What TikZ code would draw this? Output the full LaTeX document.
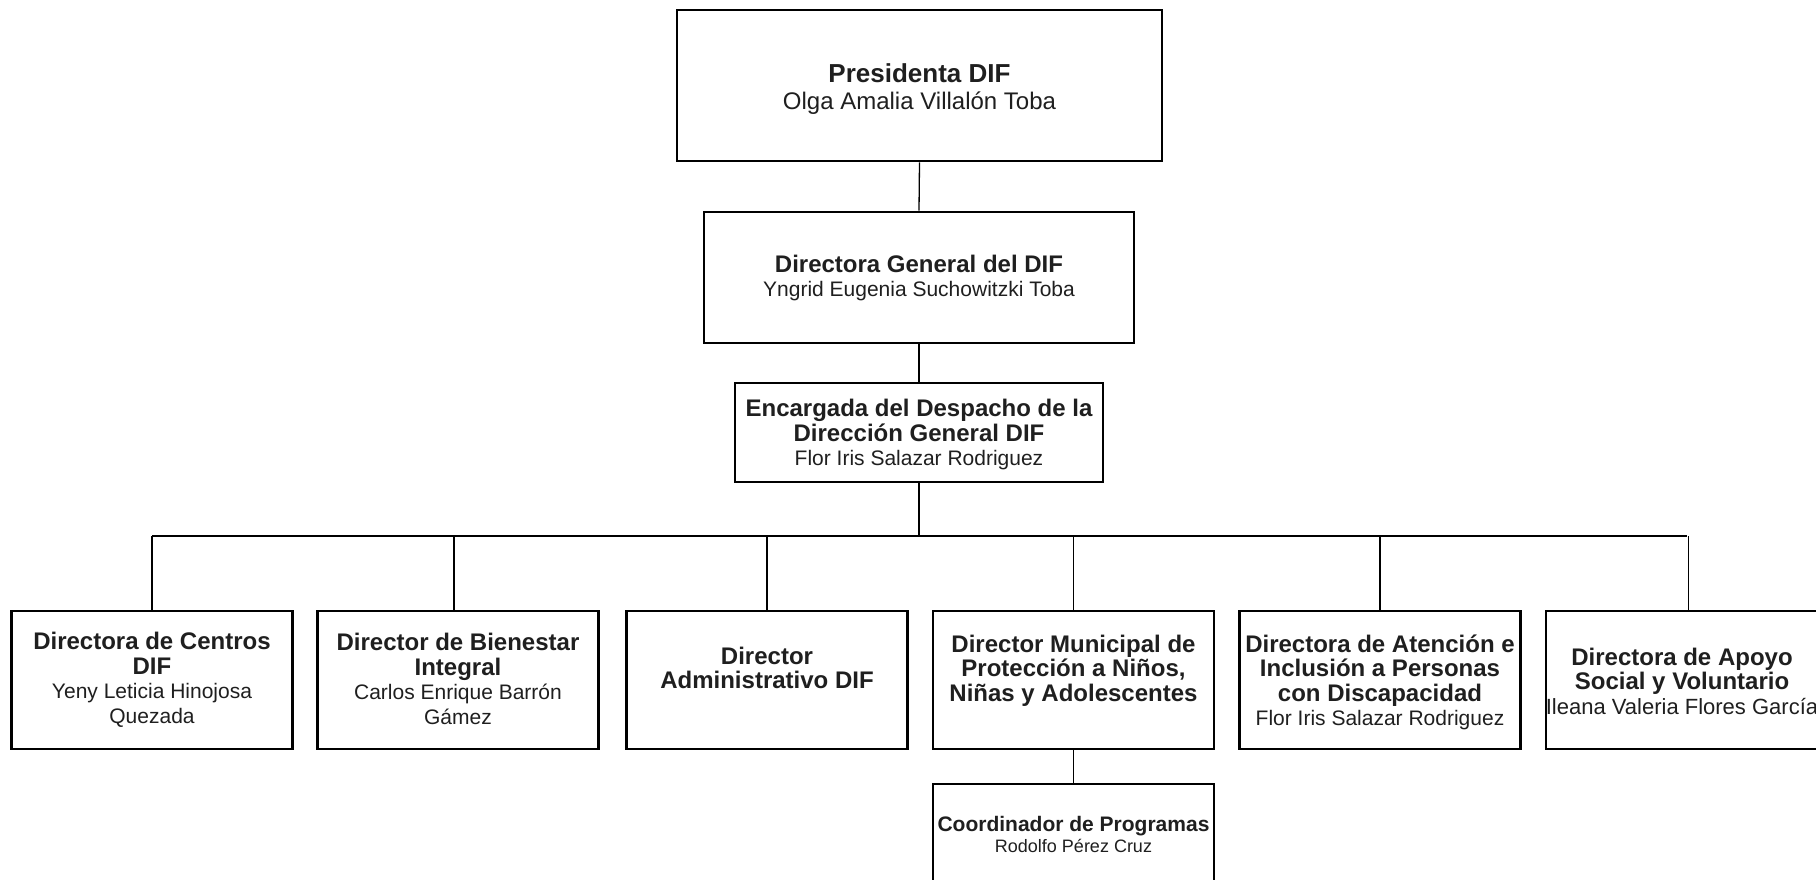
\documentclass[tikz,border=0pt]{standalone}
\usepackage{fontspec}
\setmainfont{Liberation Sans}
\newcommand\nmline[1]{{\fontsize{21}{25}\selectfont\mdseries #1}}
\begin{document}
\begin{tikzpicture}[x=1pt,y=-1pt]
\tikzset{
  box/.style={draw=black, line width=2.6pt, rectangle, inner sep=0pt, fill=white},
  wire/.style={draw=black, line width=1.3pt},
  txt/.style={align=center, text=black!88, inner sep=0pt,
    font=\fontsize{24}{24.5}\selectfont\bfseries},
  lower/.style={box, minimum width=281pt, minimum height=138pt},
}
\clip (0,0) rectangle (1816,880);
\fill[white] (0,0) rectangle (1816,880);

% boxes
\node[box, minimum width=485pt, minimum height=151pt] (pres) at (919.5,85.5) {};
\node[box, minimum width=430pt, minimum height=131pt] (dg) at (919,277.5) {};
\node[box, minimum width=368pt, minimum height=99pt] (enc) at (919,432.5) {};
\node[lower] (b1) at (152,680) {};
\node[lower] (b2) at (458,680) {};
\node[lower] (b3) at (767,680) {};
\node[lower] (b4) at (1073.5,680) {};
\node[lower] (b5) at (1380,680) {};
\node[lower] (b6) at (1686.5,680) {};
\node[box, minimum width=281pt, minimum height=130pt] (coord) at (1073.5,849) {};

% connectors
\coordinate (bus) at (919,536);
\draw[wire] (pres.south) -- (dg.north);
\draw[wire] (dg.south) -- (enc.north);
\draw[wire] (enc.south) -- (bus);
\draw[wire] (b1.north |- bus) -- (b6.north |- bus);
\draw[wire] (b1.north) -- (b1.north |- bus);
\draw[wire] ([xshift=-4pt]b2.north) -- ([xshift=-4pt]b2.north |- bus);
\draw[wire] (b3.north) -- (b3.north |- bus);
\draw[wire] (b4.north) -- (b4.north |- bus);
\draw[wire] (b5.north) -- (b5.north |- bus);
\draw[wire] ([xshift=2pt]b6.north) -- ([xshift=2pt]b6.north |- bus);
\draw[wire] (b4.south) -- (coord.north);

% texts
\node[txt, font=\fontsize{26}{27}\selectfont\bfseries] (presT) at (919.5,89.5)
  {Presidenta DIF\\{\fontsize{24}{27}\selectfont\mdseries Olga Amalia Villalón Toba}};
\node[txt] (dgT) at (919,278.2)
  {Directora General del DIF\\\nmline{Yngrid Eugenia Suchowitzki Toba}};
\node[txt] (encT) at (919,434.5)
  {Encargada del Despacho de la\\Dirección General DIF\\\nmline{Flor Iris Salazar Rodriguez}};
\node[txt] (b1T) at (152,679.8)
  {Directora de Centros\\DIF\\\nmline{Yeny Leticia Hinojosa}\\\nmline{Quezada}};
\node[txt] (b2T) at (458,679)
  {Director de Bienestar\\Integral\\\nmline{Carlos Enrique Barrón}\\\nmline{Gámez}};
\node[txt] (b3T) at (767,668)
  {Director\\Administrativo DIF};
\node[txt] (b4T) at (1073.5,670.5)
  {Director Municipal de\\Protección a Niños,\\Niñas y Adolescentes};
\node[txt] (b5T) at (1380,682.5)
  {Directora de Atención e\\Inclusión a Personas\\con Discapacidad\\\nmline{Flor Iris Salazar Rodriguez}};
\node[txt] (b6T) at (1682,681.2)
  {Directora de Apoyo\\Social y Voluntario\\{\fontsize{22}{25}\selectfont\mdseries Ileana Valeria Flores García}};
\node[txt, font=\fontsize{21}{21}\selectfont\bfseries] (coordT) at (1073.5,834.5)
  {Coordinador de Programas\\{\fontsize{18}{21}\selectfont\mdseries Rodolfo Pérez Cruz}};
\end{tikzpicture}
\end{document}
